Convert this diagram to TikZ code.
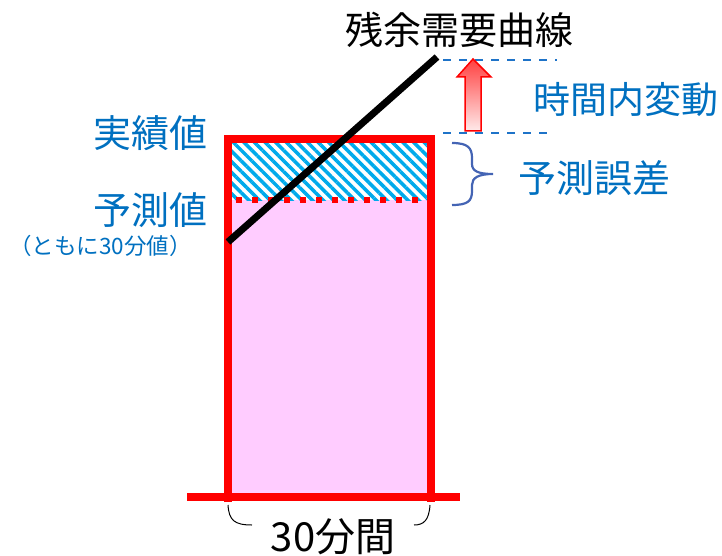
\documentclass[tikz,border=0pt]{standalone}
\usepackage{fontspec}
\setmainfont{Noto Sans CJK JP}
\usetikzlibrary{patterns.meta}
\definecolor{tblue}{RGB}{0,112,192}
\definecolor{dblue}{RGB}{30,115,200}
\definecolor{hblue}{RGB}{0,170,235}
\definecolor{pinkf}{RGB}{255,204,255}
\definecolor{bracec}{RGB}{68,100,180}
\tikzset{
  lbl/.style={inner sep=0pt, text=tblue, font=\fontsize{38}{40}\selectfont},
  redline/.style={draw=red, line width=8pt},
  dashb/.style={draw=dblue, line width=2.4pt, dash pattern=on 8pt off 8pt},
}
\begin{document}
\begin{tikzpicture}[x=1pt,y=-1pt]
\useasboundingbox (0,0) rectangle (722,556);
% fills
\fill[pinkf] (228,200) rectangle (431,497);
\fill[pattern={Lines[angle=-45,distance=7.5pt,line width=3.5pt]}, pattern color=hblue] (232,143) rectangle (427,200);
% dotted predicted line
\draw[red, line width=6pt, dash pattern=on 6pt off 10pt] (236,200) -- (428,200);
% box outline
\draw[redline] (228,502) -- (228,139) -- (431,139) -- (431,502);
\draw[redline] (187,497) -- (460,497);
% residual demand curve
\coordinate (c1) at (228,242);
\coordinate (c2) at (437,57);
\draw[black, line width=7pt] (c1) -- (c2);
\node[inner sep=0pt, font=\fontsize{38}{40}\selectfont] (t1) at (459,30) {残余需要曲線};
% dashed lines
\coordinate (d1a) at (443,60); \coordinate (d1b) at (557,60);
\coordinate (d2a) at (443,133); \coordinate (d2b) at (550,133);
\draw[dashb] (d1a) -- (d1b);
\draw[dashb] (d2a) -- (d2b);
% arrow
\draw[red, line width=1.5pt, top color=red!75, bottom color=red!8]
  (465,131) -- (465,77) -- (457,77) -- (473,59) -- (491,77) -- (481,77) -- (481,131) -- cycle;
% brace
\draw[bracec, line width=2.2pt] (452,143) .. controls (468,143) and (472,148) .. (472,158)
  -- (472,164) .. controls (472,171) and (478,174) .. (493,174)
  .. controls (478,174) and (472,178) .. (472,185) -- (472,191)
  .. controls (472,201) and (468,205) .. (452,205);
% labels
\node[lbl, font=\fontsize{37}{40}\selectfont] (jisseki) at (626,100) {時間内変動};
\node[lbl] (gosa) at (594,178) {予測誤差};
\node[lbl, anchor=east] (jv) at (208,133) {実績値};
\node[lbl, anchor=east] (yv) at (208,210) {予測値};
\node[inner sep=0pt, anchor=east, text=tblue, font=\fontsize{22.5}{25}\selectfont] (note) at (192,246) {（ともに30分値）};
% bottom brace
\draw[black, line width=1pt] (228,505) .. controls (229,520) and (234,525) .. (252,525);
\draw[black, line width=1pt] (430,505) .. controls (429,520) and (424,525) .. (414,525);
\node[inner sep=0pt, font=\fontsize{40}{42}\selectfont] (dur) at (333,537) {30分間};
\end{tikzpicture}
\end{document}
